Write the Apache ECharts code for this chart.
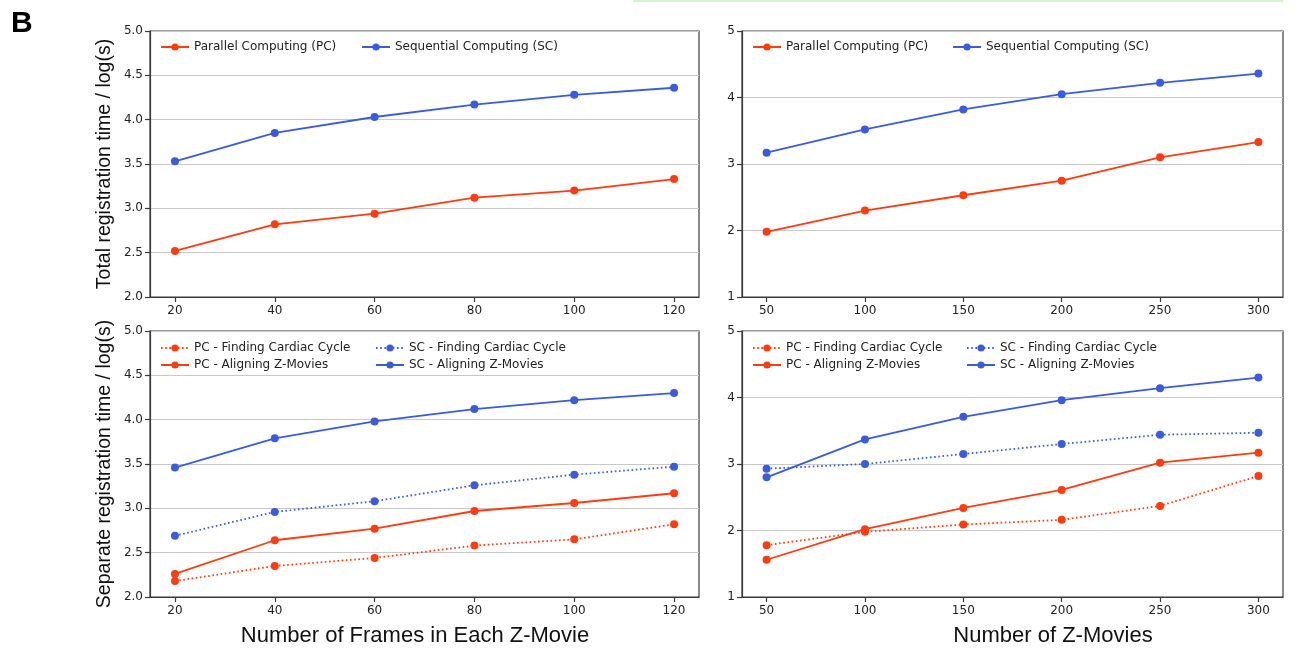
<!DOCTYPE html>
<html>
<head>
<meta charset="utf-8">
<script src="https://cdn.jsdelivr.net/npm/echarts@6/dist/echarts.min.js"></script>
<style>
html,body{margin:0;padding:0;background:#fff;}
#c{width:1299px;height:661px;}
</style>
</head>
<body>
<div id="c"></div>
<script>
// ---- data ----
const framesX = [20, 40, 60, 80, 100, 120];
const moviesX = [50, 100, 150, 200, 250, 300];

const totalFramesPC = [2.52, 2.82, 2.94, 3.12, 3.20, 3.33];
const totalFramesSC = [3.53, 3.85, 4.03, 4.17, 4.28, 4.36];

const totalMoviesPC = [1.98, 2.30, 2.53, 2.75, 3.10, 3.33];
const totalMoviesSC = [3.17, 3.52, 3.82, 4.05, 4.22, 4.36];

const sepFramesPCFind  = [2.18, 2.35, 2.44, 2.58, 2.65, 2.82];
const sepFramesPCAlign = [2.26, 2.64, 2.77, 2.97, 3.06, 3.17];
const sepFramesSCFind  = [2.69, 2.96, 3.08, 3.26, 3.38, 3.47];
const sepFramesSCAlign = [3.46, 3.79, 3.98, 4.12, 4.22, 4.30];

const sepMoviesPCFind  = [1.78, 1.98, 2.09, 2.16, 2.37, 2.82];
const sepMoviesPCAlign = [1.56, 2.02, 2.34, 2.61, 3.02, 3.17];
const sepMoviesSCFind  = [2.93, 3.00, 3.15, 3.30, 3.44, 3.47];
const sepMoviesSCAlign = [2.80, 3.37, 3.71, 3.96, 4.14, 4.30];

const framesTicks = [20, 40, 60, 80, 100, 120];
const moviesTicks = [50, 100, 150, 200, 250, 300];

const namePC = 'Parallel Computing (PC)';
const nameSC = 'Sequential Computing (SC)';
const namePCFind = 'PC - Finding Cardiac Cycle';
const namePCAlign = 'PC - Aligning Z-Movies';
const nameSCFind = 'SC - Finding Cardiac Cycle';
const nameSCAlign = 'SC - Aligning Z-Movies';

// ---- styles ----
const RED = '#ff3c0f';
const BLUE = '#3a5bdc';
const FRAME = '#3a3a3a';
const TICKFONT = 'DejaVu Sans';

function zip(xs, ys){ return xs.map((x,i)=>[x, ys[i]]); }

function mkSeries(name, xs, ys, color, dotted, idx){
  return {
    type:'line', name:name, data:zip(xs, ys),
    xAxisIndex:idx, yAxisIndex:idx,
    symbol:'circle', symbolSize:8, showSymbol:true,
    itemStyle:{color:color},
    lineStyle:{color:color, width:1.8, type: dotted ? [1.6,2.6] : 'solid'},
    emphasis:{disabled:true},
    animation:false, z:3
  };
}

const grids = [
  {left:150, right:600, top:31, bottom:364},
  {left:742, right:16, top:31, bottom:364},
  {left:150, right:600, top:331, bottom:64},
  {left:742, right:16, top:331, bottom:64}
].map(g=>Object.assign(g,{show:true, borderColor:FRAME, borderWidth:1.2, backgroundColor:'transparent', containLabel:false}));

function mkX(idx, min, max, ticks){
  return {
    type:'value', gridIndex:idx, min:min, max:max,
    axisLine:{show:true, onZero:false, lineStyle:{color:FRAME, width:1.2}},
    axisTick:{show:true, inside:false, length:5, customValues:ticks, lineStyle:{color:FRAME, width:1.2}},
    axisLabel:{customValues:ticks, color:'#222', fontFamily:TICKFONT, fontSize:12, margin:8},
    splitLine:{show:false}
  };
}
function mkY(idx, min, max, interval, decimals, name, nameGap){
  return {
    type:'value', gridIndex:idx, min:min, max:max, interval:interval,
    axisLine:{show:true, lineStyle:{color:FRAME, width:1.2}},
    axisTick:{show:true, inside:false, length:5, lineStyle:{color:FRAME, width:1.2}},
    axisLabel:{color:'#222', fontFamily:TICKFONT, fontSize:12, margin:7,
      formatter:v=>v.toFixed(decimals)},
    splitLine:{show:true, lineStyle:{color:'#c9c9c9', width:1.2}},
    name:name||'', nameLocation:'middle', nameGap:nameGap||0,
    nameTextStyle:{fontFamily:'Liberation Sans', fontSize:19.5, color:'#111'}
  };
}

const legendBase = {
  orient:'vertical', itemWidth:28, itemHeight:9, itemGap:5,
  textStyle:{fontFamily:TICKFONT, fontSize:12, color:'#222'},
  selectedMode:false
};
function mkLegend(data, left, top){
  return Object.assign({}, legendBase, {data:data, left:left, top:top, padding:0});
}

const option = {
  backgroundColor:'#fff',
  animation:false,
  grid:grids,
  xAxis:[
    mkX(0, 15, 125, framesTicks),
    mkX(1, 37.5, 312.5, moviesTicks),
    mkX(2, 15, 125, framesTicks),
    mkX(3, 37.5, 312.5, moviesTicks)
  ],
  yAxis:[
    mkY(0, 2, 5, 0.5, 1, 'Total registration time / log(s)', 35),
    mkY(1, 1, 5, 1, 0),
    mkY(2, 2, 5, 0.5, 1, 'Separate registration time / log(s)', 35),
    mkY(3, 1, 5, 1, 0)
  ],
  legend:[
    mkLegend([namePC], 160, 41),
    mkLegend([nameSC], 361, 41),
    mkLegend([namePC], 752, 41),
    mkLegend([nameSC], 952, 41),
    mkLegend([namePCFind, namePCAlign], 160, 342),
    mkLegend([nameSCFind, nameSCAlign], 375, 342),
    mkLegend([namePCFind, namePCAlign], 752, 342),
    mkLegend([nameSCFind, nameSCAlign], 966, 342)
  ],
  series:[
    mkSeries(namePC, framesX, totalFramesPC, RED, false, 0),
    mkSeries(nameSC, framesX, totalFramesSC, BLUE, false, 0),
    mkSeries(namePC, moviesX, totalMoviesPC, RED, false, 1),
    mkSeries(nameSC, moviesX, totalMoviesSC, BLUE, false, 1),
    mkSeries(namePCFind, framesX, sepFramesPCFind, RED, true, 2),
    mkSeries(namePCAlign, framesX, sepFramesPCAlign, RED, false, 2),
    mkSeries(nameSCFind, framesX, sepFramesSCFind, BLUE, true, 2),
    mkSeries(nameSCAlign, framesX, sepFramesSCAlign, BLUE, false, 2),
    mkSeries(namePCFind, moviesX, sepMoviesPCFind, RED, true, 3),
    mkSeries(namePCAlign, moviesX, sepMoviesPCAlign, RED, false, 3),
    mkSeries(nameSCFind, moviesX, sepMoviesSCFind, BLUE, true, 3),
    mkSeries(nameSCAlign, moviesX, sepMoviesSCAlign, BLUE, false, 3)
  ],
  graphic:[
    {type:'rect', shape:{x:633, y:0, width:650, height:2}, style:{fill:'#dcefd6'}, silent:true},
    {type:'text', left:11, top:9, style:{text:'B', font:'bold 30px "Liberation Sans", Arial, sans-serif', fill:'#000'}, silent:true},
    {type:'text', x:415, y:636, style:{text:'Number of Frames in Each Z-Movie', font:'22px "Liberation Sans", Arial, sans-serif', fill:'#111', align:'center', verticalAlign:'middle'}, silent:true},
    {type:'text', x:1053, y:636, style:{text:'Number of Z-Movies', font:'22px "Liberation Sans", Arial, sans-serif', fill:'#111', align:'center', verticalAlign:'middle'}, silent:true}
  ]
};

const chart = echarts.init(document.getElementById('c'), null, {renderer:'canvas'});
chart.setOption(option);
</script>
</body>
</html>
